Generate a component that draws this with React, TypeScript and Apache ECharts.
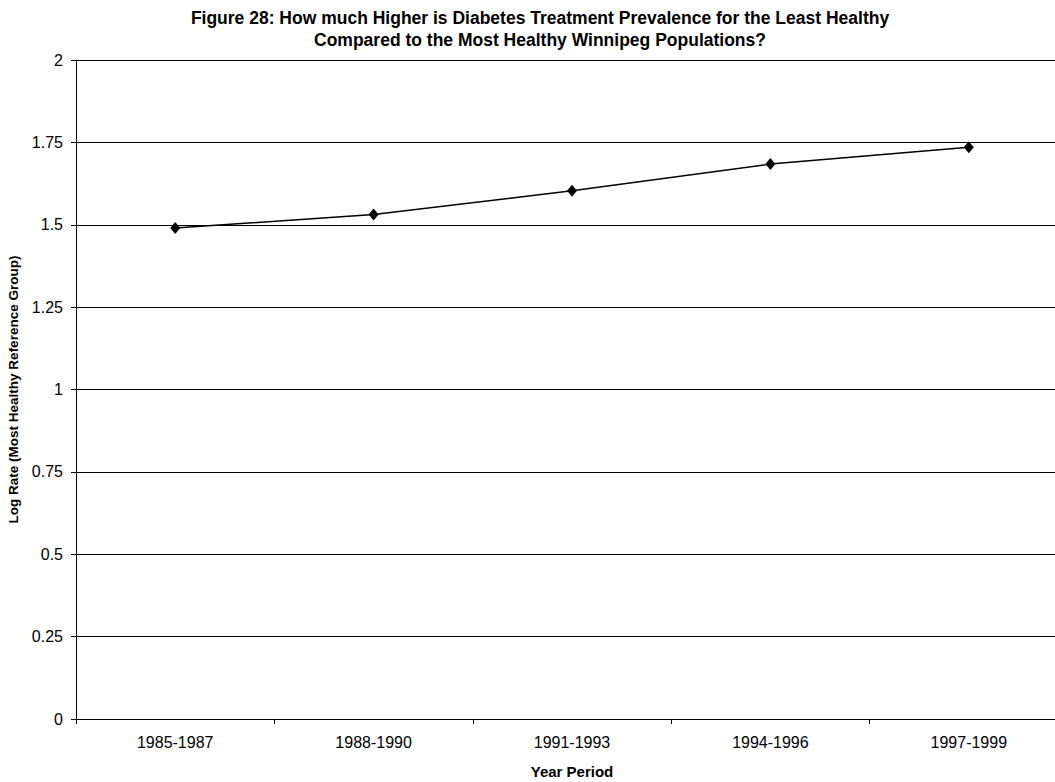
import React, { useEffect, useRef } from "react";
import * as echarts from "echarts";

const categories = ["1985-1987", "1988-1990", "1991-1993", "1994-1996", "1997-1999"];
const logRates = [1.49, 1.531, 1.603, 1.684, 1.735];
const titleLines = [
  "Figure 28: How much Higher is Diabetes Treatment Prevalence for the Least Healthy",
  "Compared to the Most Healthy Winnipeg Populations?",
];
const yAxisName = "Log Rate (Most Healthy Reference Group)";
const xAxisName = "Year Period";

export default function App() {
  const ref = useRef<HTMLDivElement>(null);
  useEffect(() => {
    if (!ref.current) return;
    const chart = echarts.init(ref.current, null, { renderer: "svg" });
    const font = "Arial, 'Liberation Sans', sans-serif";
    chart.setOption({
      animation: false,
      backgroundColor: "#fff",
      graphic: titleLines.map((t, i) => ({
        type: "text",
        x: 540,
        y: 18 + i * 22,
        style: {
          text: t,
          fontFamily: font,
          fontWeight: "bold",
          fontSize: 17.5,
          fill: "#000",
          align: "center",
          verticalAlign: "middle",
        },
      })),
      grid: {
        left: 76,
        top: 60,
        width: 992,
        height: 659,
        containLabel: false,
        outerBoundsMode: "none",
      },
      xAxis: {
        type: "category",
        data: categories,
        boundaryGap: true,
        name: xAxisName,
        nameLocation: "middle",
        nameGap: 45,
        nameTextStyle: { fontFamily: font, fontWeight: "bold", fontSize: 15, color: "#000" },
        axisLine: { lineStyle: { color: "#000", width: 1 } },
        axisTick: { show: true, length: 5, inside: false, lineStyle: { color: "#000" } },
        axisLabel: { fontFamily: font, fontSize: 16, color: "#000", margin: 15 },
        splitLine: { show: false },
      },
      yAxis: {
        type: "value",
        min: 0,
        max: 2,
        interval: 0.25,
        name: yAxisName,
        nameLocation: "middle",
        nameGap: 49,
        nameRotate: 90,
        nameTextStyle: { fontFamily: font, fontWeight: "bold", fontSize: 13.5, color: "#000" },
        axisLine: { show: true, lineStyle: { color: "#000", width: 1 } },
        axisTick: { show: true, length: 5, inside: false, lineStyle: { color: "#000" } },
        axisLabel: { fontFamily: font, fontSize: 16, color: "#000", margin: 13 },
        splitLine: { show: true, lineStyle: { color: "#000", width: 1 } },
      },
      series: [
        {
          type: "line",
          data: logRates,
          symbol: "diamond",
          symbolSize: [10, 12],
          lineStyle: { color: "#000", width: 1.5 },
          itemStyle: { color: "#000" },
          z: 5,
        },
      ],
    });
    return () => chart.dispose();
  }, []);
  return (
    <div style={{ width: 1055, height: 782, position: "absolute", left: 0, top: 0, overflow: "hidden" }}>
      <div ref={ref} style={{ width: 1055, height: 782, overflow: "hidden" }} />
    </div>
  );
}
